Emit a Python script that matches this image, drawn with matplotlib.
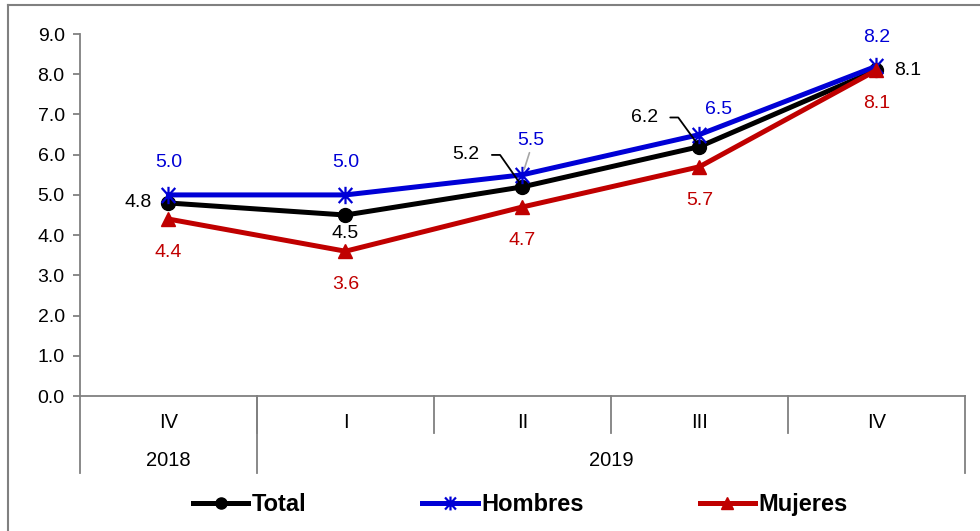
import matplotlib
matplotlib.use("Agg")
import matplotlib.pyplot as plt
from matplotlib.lines import Line2D
from matplotlib.path import Path

plt.rcParams['font.family'] = ['Liberation Sans', 'DejaVu Sans']

# ---- data ----
quarters = ["IV", "I", "II", "III", "IV"]
years = ["2018", "2019"]
year_spans = [(0, 0), (1, 4)]          # first and last category index of each year
total = [4.8, 4.5, 5.2, 6.2, 8.1]
hombres = [5.0, 5.0, 5.5, 6.5, 8.2]
mujeres = [4.4, 3.6, 4.7, 5.7, 8.1]
yticks = [0.0, 1.0, 2.0, 3.0, 4.0, 5.0, 6.0, 7.0, 8.0, 9.0]

BLACK = "#000000"
BLUE = "#0000D6"
RED = "#C00000"
GRAY = "#808080"

# X with a vertical bar (Excel "star" marker)
star = Path([(-0.9, -1), (0.9, 1), (-0.9, 1), (0.9, -1), (0, -1.15), (0, 1.15)],
            [Path.MOVETO, Path.LINETO, Path.MOVETO, Path.LINETO, Path.MOVETO, Path.LINETO])

fig = plt.figure(figsize=(9.8, 5.31), dpi=100)
ax = fig.add_axes([0.0816, 0.2542, 0.903, 0.6817])

x = list(range(len(quarters)))
lw = 3.6
ax.plot(x, total, color=BLACK, lw=lw, marker='o', ms=10, mfc=BLACK, mec=BLACK,
        label="Total", zorder=3)
ax.plot(x, hombres, color=BLUE, lw=lw, marker=star, ms=12.5, mec=BLUE, mew=1.6,
        label="Hombres", zorder=4)
ax.plot(x, mujeres, color=RED, lw=lw, marker='^', ms=10.5, mfc=RED, mec=RED,
        label="Mujeres", zorder=5)

ax.set_xlim(-0.5, len(quarters) - 0.5)
ax.set_ylim(0, 9)
ax.set_yticks(yticks)
ax.set_yticklabels([f"{v:.1f}" for v in yticks], fontsize=14)
ax.set_xticks([])
for s in ["top", "right"]:
    ax.spines[s].set_visible(False)
for s in ["left", "bottom"]:
    ax.spines[s].set_color(GRAY)
    ax.spines[s].set_linewidth(1.3)
ax.tick_params(axis='y', direction='out', length=5, width=1.3, color=GRAY, pad=6)

# ---- multi-level category axis ----
trans = ax.get_xaxis_transform()
for i in range(len(quarters) - 1):
    ax.plot([i + 0.5, i + 0.5], [0, -0.102], transform=trans, color=GRAY, lw=1.3, clip_on=False)
year_edges = [year_spans[0][0] - 0.5] + [s[1] + 0.5 for s in year_spans]
for e in year_edges:
    ax.plot([e, e], [0, -0.213], transform=trans, color=GRAY, lw=1.3, clip_on=False)
for i, q in enumerate(quarters):
    ax.text(i, -0.072, q, transform=trans, ha='center', va='center', fontsize=14.5)
for yr, (a, b) in zip(years, year_spans):
    ax.text((a + b) / 2, -0.177, yr, transform=trans, ha='center', va='center', fontsize=14.5)

# ---- data labels ----
fs = 14
# Total
total_off = [(-12, 0, 'right'), (0, -13, 'center'), None, None, (13, 0, 'left')]
for i, v in enumerate(total):
    o = total_off[i]
    if o is None:
        continue
    ax.annotate(f"{v:.1f}", (i, v), xytext=(o[0], o[1]), textcoords='offset points',
                ha=o[2], va='center', fontsize=fs, color=BLACK, zorder=6)
# Total labels with leader lines
leader = {2: (-31, 23, -55), 3: (-30, 21, -54)}
for i, (dx, dy, ang) in leader.items():
    ax.annotate(f"{total[i]:.1f}", (i, total[i]), xytext=(dx, dy), textcoords='offset points',
                ha='right', va='center', fontsize=fs, color=BLACK, zorder=6,
                arrowprops=dict(arrowstyle='-', color=BLACK, lw=1.3, shrinkA=7, shrinkB=4,
                                relpos=(1, 0.5),
                                connectionstyle=f"angle,angleA=0,angleB={ang},rad=0"))

# Hombres
hom_off = [(0, 23), (0, 23), (6, 25), (14, 18), (0, 21)]
for i, v in enumerate(hombres):
    dx, dy = hom_off[i]
    kw = {}
    if i == 2:
        kw['arrowprops'] = dict(arrowstyle='-', color="#A6A6A6", lw=1.2, shrinkA=1, shrinkB=4,
                                relpos=(0.5, 0))
    ax.annotate(f"{v:.1f}", (i, v), xytext=(dx, dy), textcoords='offset points',
                ha='center', va='center', fontsize=fs, color=BLUE, zorder=6, **kw)

# Mujeres
for i, v in enumerate(mujeres):
    ax.annotate(f"{v:.1f}", (i, v), xytext=(0, -24), textcoords='offset points',
                ha='center', va='center', fontsize=fs, color=RED, zorder=6)

# ---- legend ----
handles, labels = ax.get_legend_handles_labels()
leg = fig.legend(handles, labels, loc='center', bbox_to_anchor=(0.531, 0.049), ncol=3,
                 frameon=False, handlelength=2.35, handletextpad=0.15, columnspacing=4.9,
                 prop={'weight': 'bold', 'size': 17}, markerscale=0.8)

# ---- outer chart border (left and top visible) ----
fig.add_artist(Line2D([8 / 980, 8 / 980], [0, 1 - 5 / 531], transform=fig.transFigure,
                      color=GRAY, lw=1.5))
fig.add_artist(Line2D([8 / 980, 1], [1 - 5 / 531, 1 - 5 / 531], transform=fig.transFigure,
                      color=GRAY, lw=1.5))

fig.savefig("out.png", dpi=100)
